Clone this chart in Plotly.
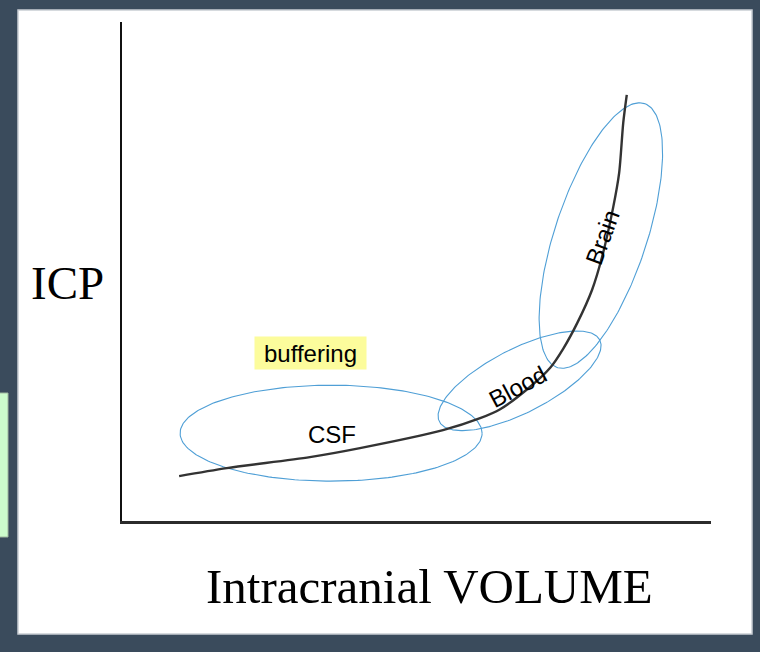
import numpy as np
import plotly.graph_objects as go

# ---- data (arbitrary units) ----
volume = [9.7, 17.8, 31.9, 40.4, 54.5, 60.8, 64.2, 69.3, 72.7, 74.9, 77.3, 79.8, 81.5, 83.4, 84.4, 85.1, 85.7]
icp = [9.0, 10.6, 12.8, 14.6, 18.2, 20.6, 22.4, 26.9, 30.7, 34.5, 39.7, 46.3, 52.9, 62.9, 69.7, 79.8, 85.4]

region_labels = ["CSF", "Blood", "Brain"]
region_x = [35.6, 67.2, 81.5]
region_y = [17.4, 27.0, 56.9]
region_angles = [0, -28, -70]

# ellipse descriptors: centre (data units), semi-axes (px), tilt (deg)
ell_cx = [35.5, 67.5, 81.3]
ell_cy = [17.6, 28.1, 57.2]
ell_a = [151, 90, 139]
ell_b = [48, 32, 46]
ell_tilt = [0, 27, 71.7]

W, H = 760, 652
ML, MR, MT, MB = 122, 49, 22, 131
sx = (W - ML - MR) / 100.0
sy = (H - MT - MB) / 100.0

fig = go.Figure()

phi = np.linspace(0, 2 * np.pi, 240)
for cx, cy, a, b, t in zip(ell_cx, ell_cy, ell_a, ell_b, ell_tilt):
    th = np.radians(t)
    dx = a * np.cos(phi) * np.cos(th) - b * np.sin(phi) * np.sin(th)
    dy = a * np.cos(phi) * np.sin(th) + b * np.sin(phi) * np.cos(th)
    fig.add_trace(go.Scatter(x=cx + dx / sx, y=cy + dy / sy, mode="lines",
                             line=dict(color="#4f9fd6", width=1.1),
                             hoverinfo="skip", showlegend=False))

fig.add_trace(go.Scatter(x=volume, y=icp, mode="lines",
                         line=dict(color="#333333", width=2.4, shape="spline", smoothing=0.8),
                         showlegend=False))

for lab, x, y, ang in zip(region_labels, region_x, region_y, region_angles):
    fig.add_annotation(x=x, y=y, text=lab, showarrow=False, textangle=ang,
                       font=dict(family="Liberation Sans, Arial", size=24, color="#000"))

fig.add_annotation(x=32.0, y=33.7, text="buffering", showarrow=False,
                   bgcolor="#fcfc9c", width=111, height=32, borderpad=0,
                   font=dict(family="Liberation Sans, Arial", size=24, color="#000"))

fig.add_annotation(xref="paper", yref="paper", x=(67 - ML) / (W - ML - MR),
                   y=(H - MB - 283) / (H - MT - MB), text="ICP", showarrow=False,
                   xanchor="center", yanchor="middle",
                   font=dict(family="Liberation Serif, Times New Roman", size=47, color="#000"))
fig.add_annotation(xref="paper", yref="paper", x=(429 - ML) / (W - ML - MR),
                   y=(H - MB - 586) / (H - MT - MB), text="Intracranial VOLUME", showarrow=False,
                   xanchor="center", yanchor="middle",
                   font=dict(family="Liberation Serif, Times New Roman", size=49, color="#000"))

pw, ph = W - ML - MR, H - MT - MB
def px2paper(x, y):
    return (x - ML) / pw, (H - MB - y) / ph

x0, y0 = px2paper(18, 634)
x1, y1 = px2paper(752, 10)
fig.add_shape(type="rect", xref="paper", yref="paper", x0=x0, y0=y0, x1=x1, y1=y1,
              fillcolor="white", line=dict(color="#c9ced4", width=1.5), layer="below")
gx0, gy0 = px2paper(-2, 537)
gx1, gy1 = px2paper(8, 393)
fig.add_shape(type="rect", xref="paper", yref="paper", x0=gx0, y0=gy0, x1=gx1, y1=gy1,
              fillcolor="#ccfccc", line=dict(color="#9fb89f", width=1), layer="below")

fig.update_layout(
    width=W, height=H,
    margin=dict(l=ML, r=MR, t=MT, b=MB),
    paper_bgcolor="#3a4b5c", plot_bgcolor="rgba(0,0,0,0)",
    showlegend=False,
    xaxis=dict(range=[0, 100], showgrid=False, zeroline=False, showticklabels=False,
               ticks="", showline=True, linecolor="#2b2b2b", linewidth=3),
    yaxis=dict(range=[0, 100], showgrid=False, zeroline=False, showticklabels=False,
               ticks="", showline=True, linecolor="#111", linewidth=1.5),
)

fig.write_html("out.html", config={"displayModeBar": False},
               post_script="document.body.style.margin='0';document.body.style.background='#3a4b5c';document.body.style.overflow='hidden';")
